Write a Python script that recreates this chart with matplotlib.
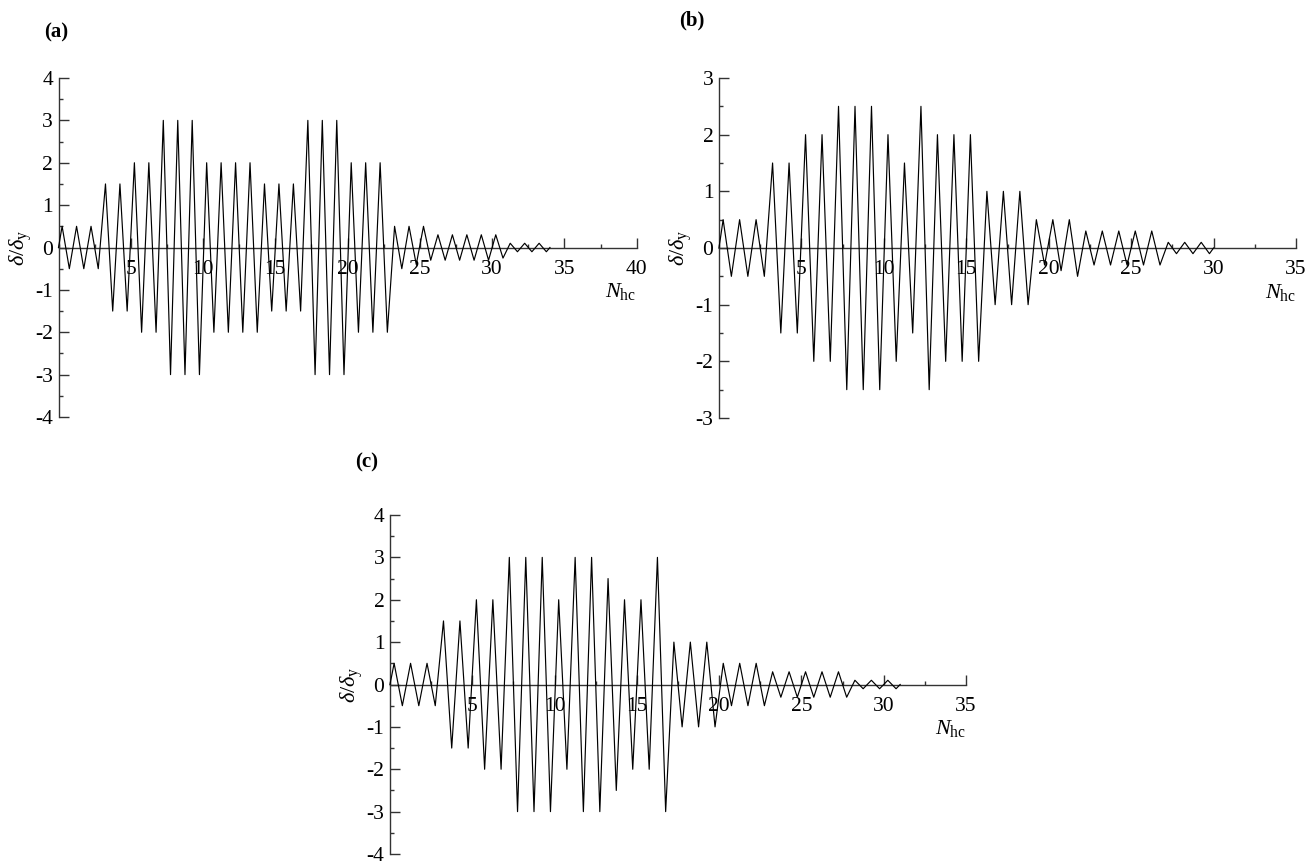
import matplotlib
matplotlib.use("Agg")
import matplotlib.pyplot as plt
from matplotlib.ticker import MultipleLocator, FixedLocator

plt.rcParams['font.family'] = ['Liberation Serif', 'DejaVu Serif']
plt.rcParams['mathtext.fontset'] = 'custom'
plt.rcParams['mathtext.rm'] = 'Liberation Serif'
plt.rcParams['mathtext.it'] = 'Liberation Serif:italic'
plt.rcParams['mathtext.bf'] = 'Liberation Serif:bold'
plt.rcParams['axes.unicode_minus'] = False

# ---- data: per-cycle positive / negative amplitudes (delta/delta_y) ----
a_peak = [0.5, 0.5, 0.5, 1.5, 1.5, 2, 2, 3, 3, 3, 2, 2, 2, 2, 1.5, 1.5, 1.5,
          3, 3, 3, 2, 2, 2, 0.5, 0.5, 0.5, 0.3, 0.3, 0.3, 0.3, 0.3, 0.1, 0.1, 0.1]
a_trough = [-0.5, -0.5, -0.5, -1.5, -1.5, -2, -2, -3, -3, -3, -2, -2, -2, -2, -1.5, -1.5, -1.5,
            -3, -3, -3, -2, -2, -2, -0.5, -0.4, -0.3, -0.3, -0.3, -0.3, -0.3, -0.25, -0.1, -0.1, -0.1]

b_peak = [0.5, 0.5, 0.5, 1.5, 1.5, 2, 2, 2.5, 2.5, 2.5, 2, 1.5, 2.5, 2, 2, 2, 1, 1, 1,
          0.5, 0.5, 0.5, 0.3, 0.3, 0.3, 0.3, 0.3, 0.1, 0.1, 0.1]
b_trough = [-0.5, -0.5, -0.5, -1.5, -1.5, -2, -2, -2.5, -2.5, -2.5, -2, -1.5, -2.5, -2, -2, -2, -1, -1, -1,
            -0.3, -0.4, -0.5, -0.3, -0.3, -0.3, -0.3, -0.3, -0.1, -0.1, -0.1]

c_peak = [0.5, 0.5, 0.5, 1.5, 1.5, 2, 2, 3, 3, 3, 2, 3, 3, 2.5, 2, 2, 3, 1, 1, 1,
          0.5, 0.5, 0.5, 0.3, 0.3, 0.3, 0.3, 0.3, 0.1, 0.1, 0.1]
c_trough = [-0.5, -0.5, -0.5, -1.5, -1.5, -2, -2, -3, -3, -3, -2, -3, -3, -2.5, -2, -2, -3, -1, -1, -1,
            -0.5, -0.5, -0.5, -0.3, -0.3, -0.3, -0.3, -0.3, -0.1, -0.1, -0.1]

panel_labels = ['(a)', '(b)', '(c)']
x_max = [40, 35, 35]
y_lim = [4, 3, 4]


def cycle_path(peaks, troughs):
    """Path of the loading history: each cycle N goes up to its peak, then down to its trough."""
    xs, ys = [0.0], [0.0]
    for n, (p, t) in enumerate(zip(peaks, troughs)):
        xs += [n + 0.25, n + 0.75]
        ys += [p, t]
    xs.append(float(len(peaks)))
    ys.append(0.0)
    return xs, ys


W, H = 1311, 865
fig = plt.figure(figsize=(W / 100, H / 100), dpi=100)

# axes boxes in pixels: left, top, right, bottom
boxes = [(58.5, 78, 636.7, 417), (719, 78, 1296, 418), (390, 515, 966, 854)]
label_pos = [(56, 32), (692, 20), (367, 462)]
series = [(a_peak, a_trough), (b_peak, b_trough), (c_peak, c_trough)]

for i, ((l, t, r, b), (pk, tr)) in enumerate(zip(boxes, series)):
    ax = fig.add_axes([l / W, (H - b) / H, (r - l) / W, (b - t) / H])
    xs, ys = cycle_path(pk, tr)
    ax.plot(xs, ys, color='black', lw=0.85, clip_on=False, zorder=3)
    ax.set_xlim(0, x_max[i])
    ax.set_ylim(-y_lim[i], y_lim[i])

    ax.spines['top'].set_visible(False)
    ax.spines['right'].set_visible(False)
    ax.spines['bottom'].set_position(('data', 0))
    for s in ('left', 'bottom'):
        ax.spines[s].set_color('#333333')
        ax.spines[s].set_linewidth(1.0)

    ax.xaxis.set_major_locator(FixedLocator(list(range(5, x_max[i] + 1, 5))))
    ax.xaxis.set_minor_locator(MultipleLocator(2.5))
    ax.yaxis.set_major_locator(MultipleLocator(1))
    ax.yaxis.set_minor_locator(MultipleLocator(0.5))
    ax.tick_params(axis='both', which='both', direction='in', color='#333333', width=1.0,
                   labelsize=15.5)
    ax.tick_params(axis='both', which='major', length=7)
    ax.tick_params(axis='both', which='minor', length=3)
    ax.tick_params(axis='x', which='major', pad=9)
    ax.tick_params(axis='y', which='major', pad=4)

    ax.text(-0.066, 0.5, r'$\delta/\delta_{\mathrm{y}}$', transform=ax.transAxes,
            rotation=90, ha='center', va='center', fontsize=16)
    ax.annotate(r'$N_{\mathrm{hc}}$', xy=(x_max[i], 0), xycoords='data',
                xytext=(0, -32), textcoords='offset points',
                ha='right', va='center', fontsize=16)

    lx, ly = label_pos[i]
    fig.text(lx / W, 1 - ly / H, panel_labels[i], ha='center', va='center',
             fontsize=15, fontweight='bold')

fig.savefig('out.png', dpi=100)
